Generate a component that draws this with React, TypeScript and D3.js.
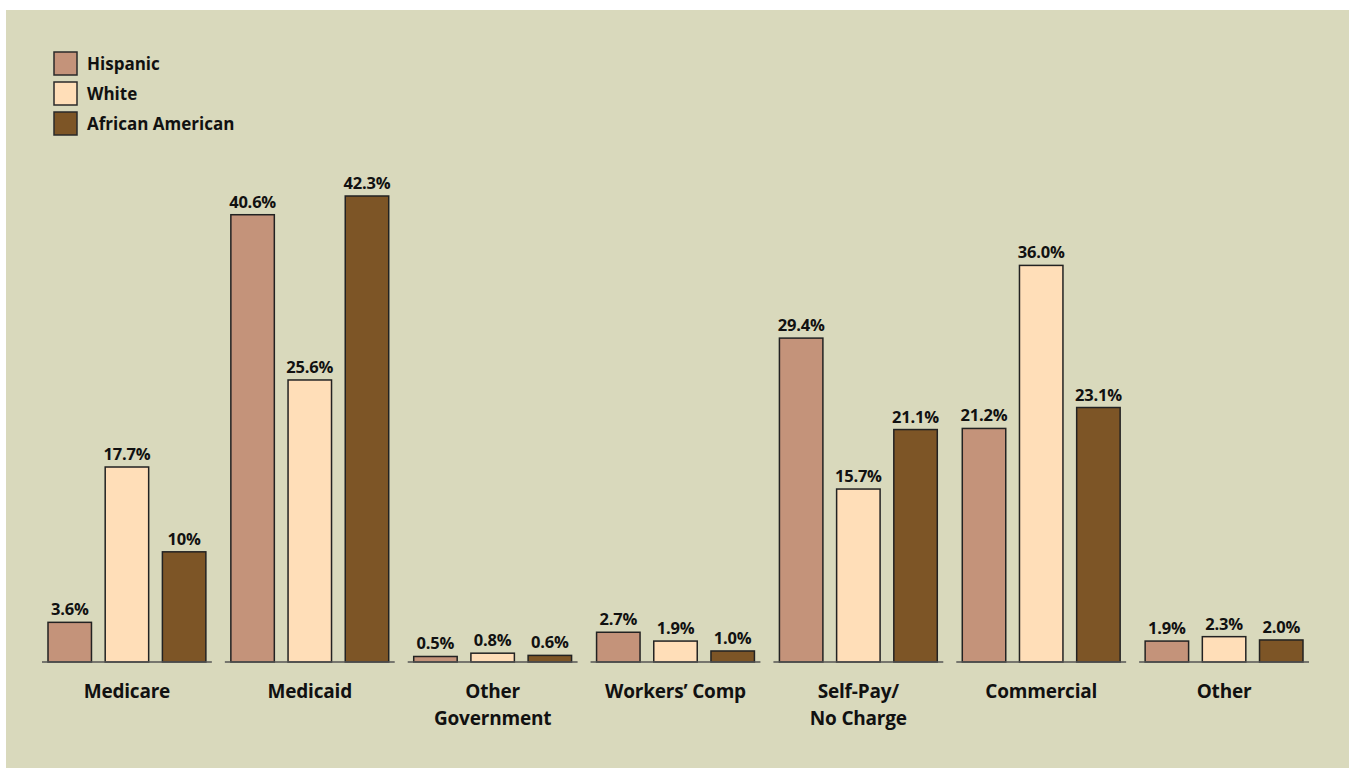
import React from "react";
import * as d3 from "d3";

const categories = ["Medicare", "Medicaid", "Other\nGovernment", "Workers\u2019 Comp", "Self-Pay/\nNo Charge", "Commercial", "Other"];
const seriesNames = ["Hispanic", "White", "African American"];
const hispanic = [3.6, 40.6, 0.5, 2.7, 29.4, 21.2, 1.9];
const white = [17.7, 25.6, 0.8, 1.9, 15.7, 36.0, 2.3];
const africanAmerican = [10.0, 42.3, 0.6, 1.0, 21.1, 23.1, 2.0];
const hispanicLabels = ["3.6%", "40.6%", "0.5%", "2.7%", "29.4%", "21.2%", "1.9%"];
const whiteLabels = ["17.7%", "25.6%", "0.8%", "1.9%", "15.7%", "36.0%", "2.3%"];
const africanAmericanLabels = ["10%", "42.3%", "0.6%", "1.0%", "21.1%", "23.1%", "2.0%"];
const colors = ["#C4937A", "#FFDEB8", "#7D5526"];

const W = 1349;
const H = 768;
const FONT = "'Open Sans', 'Noto Sans', sans-serif";

export default function App() {
  const series = [hispanic, white, africanAmerican];
  const labels = [hispanicLabels, whiteLabels, africanAmericanLabels];
  const baseY = 662;
  const y = d3.scaleLinear().domain([0, 42.3]).range([baseY, 196]);
  const x0 = d3.scaleBand<string>().domain(categories).range([42, 1309]).paddingInner(13 / 183).paddingOuter(0);
  const x1 = d3.scaleBand<string>().domain(seriesNames).range([6, x0.bandwidth() - 6]).paddingInner(0.24).paddingOuter(0);

  return (
    <svg width={W} height={H} style={{ position: "absolute", left: 0, top: 0 }} fontFamily={FONT}>
      <rect x={0} y={0} width={W} height={H} fill="#ffffff" />
      <rect x={6} y={10} width={W - 6} height={H - 10} fill="#D9D9BC" />
      {seriesNames.map((s, i) => (
        <g key={s}>
          <rect x={54} y={52 + i * 30} width={23} height={23} fill={colors[i]} stroke="#2a2a2a" strokeWidth={1.5} />
          <text x={87} y={70 + i * 30} fontSize={17} fontWeight={700} fill="#111">{s}</text>
        </g>
      ))}
      {categories.map((c, ci) => {
        const gx = x0(c)!;
        const lines = c.split("\n");
        return (
          <g key={c} transform={`translate(${gx},0)`}>
            {seriesNames.map((s, si) => {
              const v = series[si][ci];
              const bx = x1(s)!;
              const top = y(v);
              return (
                <g key={s}>
                  <rect x={bx} y={top} width={x1.bandwidth()} height={baseY - top} fill={colors[si]} stroke="#222" strokeWidth={1.5} />
                  <text x={bx + x1.bandwidth() / 2} y={top - 7} textAnchor="middle" fontSize={16.5} fontWeight={700} fill="#111" letterSpacing={-0.2}>{labels[si][ci]}</text>
                </g>
              );
            })}
            <line x1={0} x2={x0.bandwidth()} y1={baseY} y2={baseY} stroke="#555" strokeWidth={1.5} />
            {lines.map((l, li) => (
              <text key={li} x={x0.bandwidth() / 2} y={698 + li * 27} textAnchor="middle" fontSize={19} fontWeight={700} fill="#111" letterSpacing={-0.2}>{l}</text>
            ))}
          </g>
        );
      })}
    </svg>
  );
}
